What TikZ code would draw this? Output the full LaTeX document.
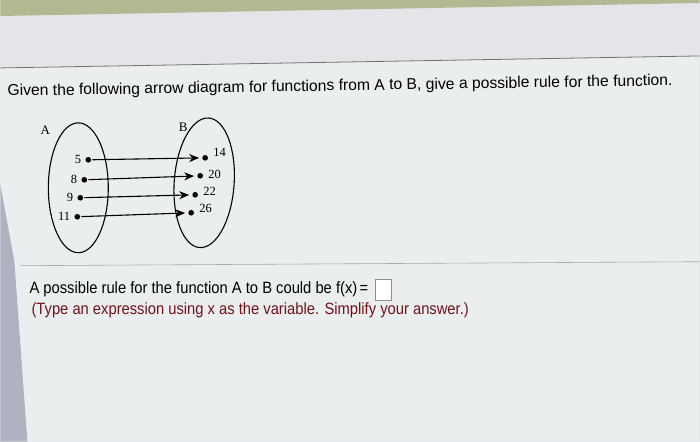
\documentclass[tikz,border=0pt]{standalone}
\usepackage{fontspec}
\setmainfont{Liberation Serif}
\newfontfamily\uifont{Liberation Sans}
\usetikzlibrary{arrows.meta}
\definecolor{screengray}{RGB}{228,229,232}
\definecolor{panelgray}{RGB}{234,238,239}
\definecolor{bezel}{RGB}{178,184,146}
\definecolor{edgegray}{RGB}{176,178,194}
\definecolor{hintred}{RGB}{112,18,24}
\definecolor{rulegray}{RGB}{118,112,112}

\begin{document}
\begin{tikzpicture}[x=1pt, y=-1pt,
  elt/.style={circle, fill=black, inner sep=2pt},
  num/.style={font=\fontsize{12.5}{14}\selectfont, inner sep=1pt},
  map/.style={-{Stealth[length=10pt, width=8pt]}, line width=1.1pt, shorten >=3pt, shorten <=1pt}]
  % Screen background
  \fill[screengray] (0,0) rectangle (700,442);
  \fill[panelgray] (0,68) -- (700,56) -- (700,442) -- (0,442) -- cycle;
  \fill[bezel] (0,0) -- (700,0) -- (700,3) -- (0,16) -- cycle;
  \fill[edgegray] (0,185) -- (14,262) -- (27,442) -- (0,442) -- cycle;
  \draw[rulegray, line width=0.8pt] (0,68) -- (700,56);
  \draw[rulegray!60, line width=0.6pt] (20,266) -- (700,262);

  % Question
  \node[font=\uifont\fontsize{15.7}{18}\selectfont, anchor=west, rotate=0.9, inner sep=0pt] (question) at (7,92)
    {Given the following arrow diagram for functions from A to B, give a possible rule for the function.};

  % Sets
  \draw[line width=1.1pt] (78,188) ellipse [x radius=30, y radius=65];
  \draw[line width=1.1pt, rotate around={-4:(204,183)}] (204,183) ellipse [x radius=30, y radius=65];
  \node[font=\fontsize{13}{15}\selectfont] (setA) at (45,130) {A};
  \node[font=\fontsize{13}{15}\selectfont] (setB) at (183,127) {B};

  % Domain elements
  \node[elt, label={[num, label distance=3pt]left:5}] (a5) at (88,160) {};
  \node[elt, label={[num, label distance=3pt]left:8}] (a8) at (84,180) {};
  \node[elt, label={[num, label distance=3pt]left:9}] (a9) at (80,198) {};
  \node[elt, label={[num, label distance=3pt]left:11}] (a11) at (77,217) {};

  % Codomain elements
  \node[elt, label={[num, label distance=4pt, yshift=5pt]right:14}] (b14) at (205,158) {};
  \node[elt, label={[num, label distance=4pt, yshift=1pt]right:20}] (b20) at (200,176) {};
  \node[elt, label={[num, label distance=4pt, yshift=3pt]right:22}] (b22) at (195,195) {};
  \node[elt, label={[num, label distance=4pt, yshift=4pt]right:26}] (b26) at (191,213) {};

  % Mapping arrows
  \draw[map] (a5) -- (b14);
  \draw[map] (a8) -- (b20);
  \draw[map] (a9) -- (b22);
  \draw[map] (a11) -- (b26);

  % Answer line
  \node[font=\uifont\fontsize{16.4}{18}\selectfont, anchor=west, xscale=0.9, inner sep=0pt] (rule) at (29,290)
    {A possible rule for the function A to B could be f(x)\,=};
  \node[draw=rulegray!80, fill=white, minimum width=16pt, minimum height=21pt, inner sep=0pt, anchor=west] (answer) at (375,290) {};
  \node[font=\uifont\fontsize{16.4}{18}\selectfont, anchor=west, xscale=0.9, inner sep=0pt, text=hintred] (hint) at (31,311)
    {(Type an expression using x as the variable. Simplify your answer.)};
\end{tikzpicture}
\end{document}
